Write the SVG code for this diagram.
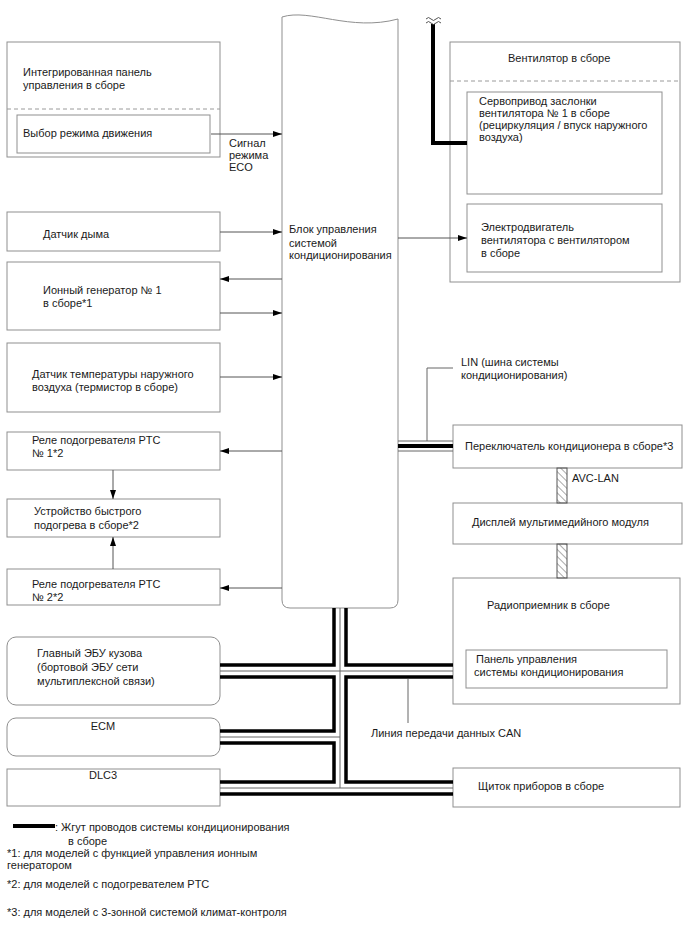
<svg xmlns="http://www.w3.org/2000/svg" width="688" height="949" viewBox="0 0 688 949">
<defs>
<style>
text{font-family:"Liberation Sans",Arial,sans-serif;font-size:11px;fill:#1a1a1a}
.box{fill:#fff;stroke:#8f8f8f;stroke-width:1}
.dash{stroke:#9a9a9a;stroke-width:1;stroke-dasharray:4 3;fill:none}
.ln{stroke:#555;stroke-width:1;fill:none}
.thk{stroke:#000;stroke-width:3.5;fill:none}
.thin{stroke:#666;stroke-width:1;fill:none}
</style>
<marker id="arr" markerWidth="9" markerHeight="6" refX="9" refY="3" orient="auto" markerUnits="userSpaceOnUse">
<path d="M0,0 L9,3 L0,6 z" fill="#000"/>
</marker>
<pattern id="hatch" width="5" height="5" patternUnits="userSpaceOnUse" patternTransform="rotate(-45)">
<line x1="0" y1="0" x2="0" y2="5" stroke="#555" stroke-width="1"/>
</pattern>
</defs>

<g id="central-block">
<path class="box" d="M282,17 C310,8 350,32 398,19 L398,600 Q398,608 390,608 L290,608 Q282,608 282,600 Z"/>
<text x="289" y="233">Блок управления</text>
<text x="289" y="246.5">системой</text>
<text x="289" y="259">кондиционирования</text>
</g>

<g id="integrated-panel">
<rect class="box" x="7" y="42" width="213" height="115"/>
<line class="dash" x1="7" y1="109" x2="220" y2="109"/>
<text x="23" y="76">Интегрированная панель</text>
<text x="23" y="89">управления в сборе</text>
<rect class="box" x="17" y="115" width="193" height="38"/>
<text x="23" y="137">Выбор режима движения</text>
</g>

<g id="blower">
<rect class="box" x="450" y="42" width="230" height="240"/>
<line class="dash" x1="450" y1="81" x2="680" y2="81"/>
<text x="508" y="62">Вентилятор в сборе</text>
<rect class="box" x="467" y="92" width="195" height="102"/>
<text x="479" y="105">Сервопривод заслонки</text>
<text x="479" y="117">вентилятора № 1 в сборе</text>
<text x="479" y="129">(рециркуляция / впуск наружного</text>
<text x="479" y="141">воздуха)</text>
<rect class="box" x="467" y="204" width="195" height="68"/>
<text x="481" y="231">Электродвигатель</text>
<text x="481" y="244">вентилятора с вентилятором</text>
<text x="481" y="257">в сборе</text>
</g>

<g id="smoke-sensor">
<rect class="box" x="7" y="212" width="213" height="39"/>
<text x="43" y="237.5">Датчик дыма</text>
</g>

<g id="ion-generator">
<rect class="box" x="7" y="262" width="213" height="68"/>
<text x="43" y="294">Ионный генератор № 1</text>
<text x="43" y="307">в сборе*1</text>
</g>

<g id="ambient-sensor">
<rect class="box" x="7" y="343" width="213" height="69"/>
<text x="32" y="378">Датчик температуры наружного</text>
<text x="32" y="391">воздуха (термистор в сборе)</text>
</g>

<g id="ptc-relay-1">
<rect class="box" x="7" y="432" width="213" height="38"/>
<text x="32" y="444">Реле подогревателя PTC</text>
<text x="32" y="457">№ 1*2</text>
</g>

<g id="quick-heater">
<rect class="box" x="7" y="499" width="213" height="38"/>
<text x="34" y="515">Устройство быстрого</text>
<text x="34" y="529">подогрева в сборе*2</text>
</g>

<g id="ptc-relay-2">
<rect class="box" x="7" y="569" width="213" height="36"/>
<text x="32" y="588">Реле подогревателя PTC</text>
<text x="32" y="601">№ 2*2</text>
</g>

<g id="main-body-ecu">
<rect class="box" x="7" y="637" width="213" height="68" rx="9" ry="9"/>
<text x="37" y="657">Главный ЭБУ кузова</text>
<text x="37" y="671">(бортовой ЭБУ сети</text>
<text x="37" y="685">мультиплексной связи)</text>
</g>

<g id="ecm">
<rect class="box" x="7" y="718" width="213" height="38" rx="9" ry="9"/>
<text x="103" y="730" text-anchor="middle">ECM</text>
</g>

<g id="dlc3">
<rect class="box" x="7" y="769" width="213" height="37"/>
<text x="103" y="779" text-anchor="middle">DLC3</text>
</g>

<g id="ac-switch">
<rect class="box" x="453" y="425" width="229" height="43"/>
<text x="465" y="450">Переключатель кондиционера в сборе*3</text>
</g>

<g id="multimedia-display">
<rect class="box" x="453" y="503" width="229" height="41"/>
<text x="472" y="526">Дисплей мультимедийного модуля</text>
</g>

<g id="radio">
<rect class="box" x="453" y="578" width="227" height="126"/>
<text x="487" y="609">Радиоприемник в сборе</text>
<rect class="box" x="466" y="650" width="201" height="38"/>
<text x="476" y="663">Панель управления</text>
<text x="474" y="676">системы кондиционирования</text>
</g>

<g id="combination-meter">
<rect class="box" x="453" y="768" width="227" height="39"/>
<text x="478" y="790">Щиток приборов в сборе</text>
</g>

<g id="connectors">
<!-- signal arrows -->
<line class="ln" x1="211" y1="134" x2="282" y2="134" marker-end="url(#arr)"/>
<line class="ln" x1="220" y1="232" x2="282" y2="232" marker-end="url(#arr)"/>
<line class="ln" x1="282" y1="279" x2="220" y2="279" marker-end="url(#arr)"/>
<line class="ln" x1="220" y1="313" x2="282" y2="313" marker-end="url(#arr)"/>
<line class="ln" x1="220" y1="377" x2="282" y2="377" marker-end="url(#arr)"/>
<line class="ln" x1="282" y1="451" x2="220" y2="451" marker-end="url(#arr)"/>
<line class="ln" x1="282" y1="588" x2="220" y2="588" marker-end="url(#arr)"/>
<line class="ln" x1="113" y1="470" x2="113" y2="499" marker-end="url(#arr)"/>
<line class="ln" x1="113" y1="569" x2="113" y2="537" marker-end="url(#arr)"/>
<line class="ln" x1="398" y1="238" x2="467" y2="238" marker-end="url(#arr)"/>

<!-- harness to servo -->
<path d="M433,24 L433,143 L467,143" fill="none" stroke="#000" stroke-width="4"/>
<path d="M426,19 q2.5,-3 5,0 t5,0 t5,0 M426,23 q2.5,-3 5,0 t5,0 t5,0" fill="none" stroke="#555" stroke-width="1"/>

<!-- LIN harness -->
<line class="thin" x1="398" y1="441" x2="453" y2="441"/>
<line x1="398" y1="446" x2="453" y2="446" stroke="#000" stroke-width="4"/>
<line class="thin" x1="398" y1="451" x2="453" y2="451"/>
<polyline class="thin" points="427,441 427,368 453,368"/>

<!-- AVC-LAN -->
<rect x="557" y="468" width="10" height="35" fill="url(#hatch)" stroke="#555" stroke-width="1"/>
<rect x="557" y="544" width="10" height="34" fill="url(#hatch)" stroke="#555" stroke-width="1"/>

<!-- CAN bus -->
<line class="thin" x1="340" y1="608" x2="340" y2="788"/>
<line class="thin" x1="220" y1="671" x2="453" y2="671"/>
<line class="thin" x1="220" y1="737" x2="340" y2="737"/>
<line class="thin" x1="220" y1="788" x2="453" y2="788"/>
<polyline class="thk" points="334,608 334,665 220,665"/>
<polyline class="thk" points="220,677 334,677 334,731 220,731"/>
<polyline class="thk" points="220,743 334,743 334,782 220,782"/>
<line class="thk" x1="220" y1="794" x2="453" y2="794"/>
<polyline class="thk" points="346,608 346,665 453,665"/>
<polyline class="thk" points="453,677 346,677 346,782 453,782"/>
<line class="thin" x1="408" y1="679" x2="408" y2="723"/>
</g>

<g id="labels">
<text x="229" y="147">Сигнал</text>
<text x="229" y="159">режима</text>
<text x="229" y="171">ECO</text>
<text x="461" y="366">LIN (шина системы</text>
<text x="461" y="379">кондиционирования)</text>
<text x="572" y="482">AVC-LAN</text>
<text x="371" y="737">Линия передачи данных CAN</text>
</g>

<g id="legend">
<line x1="13" y1="826" x2="55" y2="826" stroke="#000" stroke-width="4"/>
<text x="55" y="831">: Жгут проводов системы кондиционирования</text>
<text x="68" y="845">в сборе</text>
<text x="7" y="857">*1: для моделей с функцией управления ионным</text>
<text x="7" y="869">генератором</text>
<text x="7" y="888">*2: для моделей с подогревателем PTC</text>
<text x="7" y="916">*3: для моделей с 3-зонной системой климат-контроля</text>
</g>
</svg>
